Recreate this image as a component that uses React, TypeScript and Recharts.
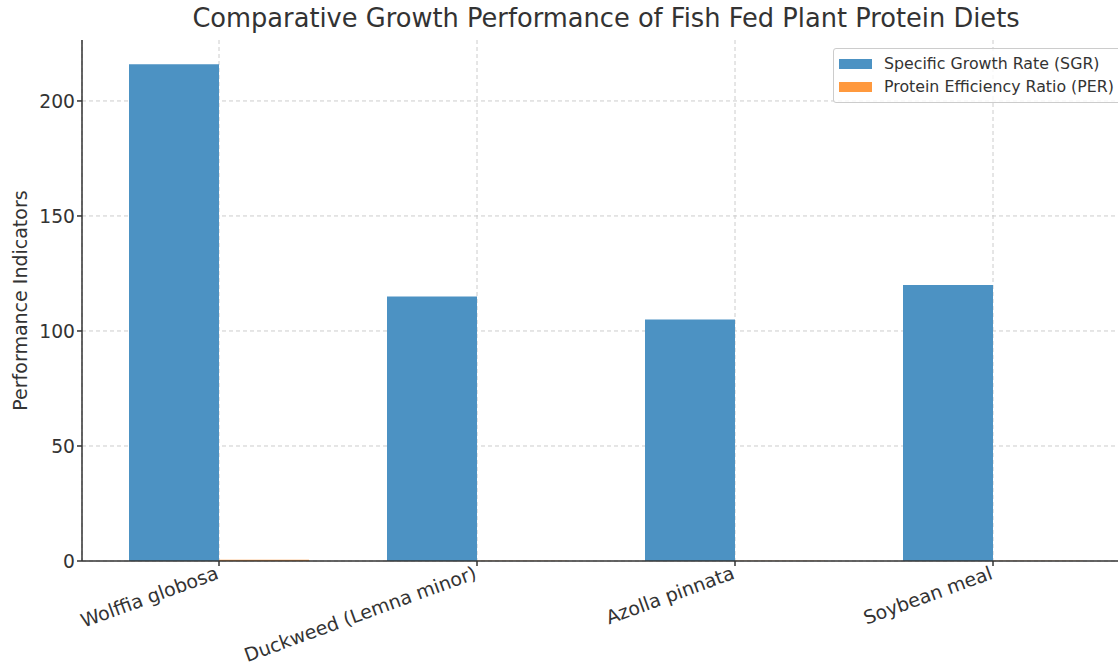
import React from 'react';
import { BarChart, Bar, XAxis, YAxis, CartesianGrid } from 'recharts';

const categories = ['Wolffia globosa', 'Duckweed (Lemna minor)', 'Azolla pinnata', 'Soybean meal'];
const sgrValues = [216, 115, 105, 120];
const perValues = [0.5, 0.1, 0.1, 0.1];
const yTicks = [0, 50, 100, 150, 200];

const data = categories.map((name, i) => ({ name, sgr: sgrValues[i], per: perValues[i] }));

const FONT = '"DejaVu Sans", sans-serif';
const TEXT = '#333333';
const BLUE = '#4c92c3';
const ORANGE = '#ff993e';

const XTick = (props: any) => {
  const { x, y, payload } = props;
  return (
    <g transform={`translate(${x - 3},${y})`}>
      <text x={0} y={0} dy={11} textAnchor="end" transform="rotate(-20)" fontSize={19} fill={TEXT} fontFamily={FONT}>
        {payload.value}
      </text>
    </g>
  );
};

const legendItems = [
  { label: 'Specific Growth Rate (SGR)', color: BLUE },
  { label: 'Protein Efficiency Ratio (PER)', color: ORANGE },
];

const LegendBox = () => (
  <div style={{
    position: 'absolute', top: 48, left: 833, zIndex: 2,
    border: '1px solid #cccccc', borderRadius: 3, background: 'rgba(255,255,255,0.8)',
    padding: '3px 14px 4px 5px', fontFamily: FONT, fontSize: 15.8, color: TEXT, whiteSpace: 'nowrap',
  }}>
    {legendItems.map((it) => (
      <div key={it.label} style={{ display: 'flex', alignItems: 'center', height: 23 }}>
        <span style={{ display: 'inline-block', width: 33, height: 10, background: it.color, marginRight: 12 }} />
        {it.label}
      </div>
    ))}
  </div>
);

export default function App() {
  return (
    <div style={{ position: 'absolute', left: 0, top: 0, width: 1118, height: 666, overflow: 'hidden', background: '#fff' }}>
      <div style={{
        position: 'absolute', top: 3, left: 0, width: 1212, textAlign: 'center',
        fontFamily: FONT, fontSize: 25.7, color: TEXT, zIndex: 2,
      }}>
        Comparative Growth Performance of Fish Fed Plant Protein Diets
      </div>
      <LegendBox />
      <BarChart
        width={1140}
        height={666}
        data={data}
        margin={{ top: 40, right: 9, left: 0, bottom: 0 }}
        barCategoryGap={39}
        barGap={0}
      >
        <CartesianGrid strokeDasharray="4 3" stroke="#cccccc" horizontalValues={yTicks} />
        <XAxis
          dataKey="name"
          padding={{ left: 8, right: 9 }}
          interval={0}
          tick={<XTick />}
          tickSize={5}
          stroke="#333"
          strokeWidth={1.5}
          height={105}
        />
        <YAxis
          width={82}
          domain={[0, 226.5]}
          ticks={yTicks}
          tickSize={5}
          stroke="#333"
          strokeWidth={1.5}
          tick={{ fontSize: 18.7, fill: TEXT, fontFamily: FONT }}
          label={{ value: 'Performance Indicators', angle: -90, position: 'insideLeft', offset: 20, style: { textAnchor: 'middle', fontSize: 19, fill: TEXT, fontFamily: FONT } }}
        />
        <Bar dataKey="sgr" name="Specific Growth Rate (SGR)" fill={BLUE} isAnimationActive={false} />
        <Bar dataKey="per" name="Protein Efficiency Ratio (PER)" fill={ORANGE} isAnimationActive={false} />
      </BarChart>
    </div>
  );
}
